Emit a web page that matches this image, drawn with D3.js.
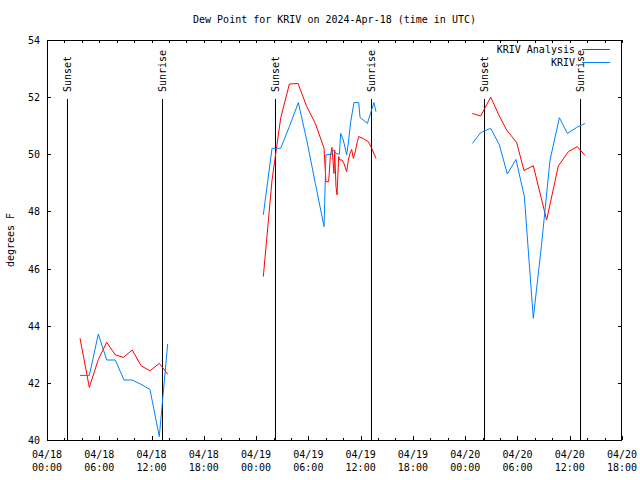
<!DOCTYPE html>
<html><head><meta charset="utf-8">
<script src="https://cdn.jsdelivr.net/npm/d3@7"></script>
<style>
body{margin:0;background:#fff;}
text{font-family:"DejaVu Sans Mono",monospace;font-size:10px;fill:#000;}
</style></head>
<body>
<svg id="c" width="640" height="480"></svg>
<script>
const title = "Dew Point for KRIV on 2024-Apr-18 (time in UTC)";
const yLabel = "degrees F";
const seriesNames = ["KRIV Analysis", "KRIV"];
const seriesColors = ["#ff0000", "#0080ff"];
const baseTime = Date.UTC(2024, 3, 18, 0, 0);
const yTicks = [40, 42, 44, 46, 48, 50, 52, 54];

// hours after 2024-04-18 00:00 UTC
const analysisTimes = [3.79,4.86,5.89,6.85,7.84,8.76,9.79,10.79,11.82,12.89,13.85,
  24.83,25.83,26.82,27.82,28.81,29.81,30.80,31.80,32.02,32.33,32.52,32.71,32.94,33.02,33.17,33.29,33.48,33.63,33.86,34.09,34.40,34.59,34.78,34.97,35.16,35.39,35.62,35.78,36.31,36.88,37.27,37.76,
  48.82,49.78,50.93,51.92,52.76,53.91,54.75,55.82,57.35,58.69,59.84,60.87,61.75];
const analysisValues = [43.56,41.84,42.82,43.42,42.98,42.89,43.15,42.6,42.42,42.68,42.3,
  45.72,49.1,51.26,52.46,52.48,51.67,51.08,50.21,49.04,49.04,49.92,50.24,49.33,50.15,48.87,48.58,49.92,49.80,49.80,49.68,49.39,49.80,50.03,50.17,49.86,50.09,50.44,50.62,50.55,50.44,50.21,49.86,
  51.43,51.34,52.0,51.34,50.85,50.41,49.43,49.60,47.7,49.59,50.09,50.27,49.96];

const krivTimes = [3.79,4.86,5.89,6.85,7.84,8.84,9.79,10.79,11.82,12.89,13.85,
  24.83,25.83,26.82,27.82,28.85,29.81,30.80,31.80,32.02,32.67,32.87,33.17,33.56,33.71,34.01,34.40,34.63,34.86,35.24,35.78,35.93,36.77,37.08,37.53,37.76,
  48.82,49.78,50.93,51.92,52.84,53.83,54.79,55.82,56.78,57.74,58.81,59.73,60.80,61.75];
const krivValues = [42.26,42.26,43.71,42.8,42.8,42.1,42.1,41.95,41.77,40.12,43.36,
  47.88,50.21,50.21,50.97,51.81,50.50,48.98,47.47,49.98,50.0,50.15,50.03,50.0,50.73,50.5,49.98,50.5,51.14,51.81,51.81,51.29,51.08,51.38,51.81,51.49,
  50.38,50.76,50.91,50.33,49.31,49.82,48.52,44.26,46.88,49.80,51.28,50.73,50.94,51.08];

const sunLabels = ["Sunset","Sunrise","Sunset","Sunrise","Sunset","Sunrise"];
const sunTimes = [2.26,13.24,26.21,37.19,50.2,61.22];

const toDate = h => new Date(baseTime + h * 3600000);

const L = 47, R = 622, T = 40, B = 440;
const x = d3.scaleUtc().domain([toDate(0), toDate(66)]).range([L, R]);
const y = d3.scaleLinear().domain([40, 54]).range([B, T]);

const svg = d3.select("#c");

// title
svg.append("text").attr("x", (L + R) / 2).attr("y", 23).attr("text-anchor", "middle").text(title);
// y label
svg.append("text").attr("transform", "translate(14,240) rotate(-90)").attr("text-anchor", "middle").text(yLabel);

const g = svg.append("g").attr("shape-rendering", "crispEdges");
const majorTicks = d3.range(0, 67, 6).map(toDate);
const minorTicks = d3.range(0, 67, 2).filter(h => h % 6 !== 0).map(toDate);

// bottom axis ticks
g.selectAll(".bmaj").data(majorTicks).join("line")
  .attr("x1", d => Math.round(x(d)) + 0.5).attr("x2", d => Math.round(x(d)) + 0.5)
  .attr("y1", B).attr("y2", B - 4).attr("stroke", "#000");
g.selectAll(".bmin").data(minorTicks).join("line")
  .attr("x1", d => Math.round(x(d)) + 0.5).attr("x2", d => Math.round(x(d)) + 0.5)
  .attr("y1", B).attr("y2", B - 2).attr("stroke", "#000");
// top axis ticks
g.selectAll(".tt").data(majorTicks.concat(minorTicks)).join("line")
  .attr("x1", d => Math.round(x(d)) + 0.5).attr("x2", d => Math.round(x(d)) + 0.5)
  .attr("y1", T).attr("y2", T + 3).attr("stroke", "#000");
// y ticks
g.selectAll(".yl").data(yTicks).join("line")
  .attr("x1", L).attr("x2", L + 4).attr("y1", d => Math.round(y(d)) + 0.5).attr("y2", d => Math.round(y(d)) + 0.5).attr("stroke", "#000");
g.selectAll(".yr").data(yTicks).join("line")
  .attr("x1", R - 4).attr("x2", R).attr("y1", d => Math.round(y(d)) + 0.5).attr("y2", d => Math.round(y(d)) + 0.5).attr("stroke", "#000");

// tick labels
const fmtD = d3.utcFormat("%m/%d"), fmtH = d3.utcFormat("%H:%M");
const xl = svg.selectAll(".xl").data(majorTicks).join("text")
  .attr("text-anchor", "middle");
xl.append("tspan").attr("x", d => x(d)).attr("y", 458).text(d => fmtD(d));
xl.append("tspan").attr("x", d => x(d)).attr("y", 471).text(d => fmtH(d));
svg.selectAll(".ylab").data(yTicks).join("text")
  .attr("x", 40).attr("y", d => y(d) + 4).attr("text-anchor", "end").text(d => d);

// sunrise/sunset
g.selectAll(".sun").data(sunTimes).join("line")
  .attr("x1", d => Math.round(x(toDate(d))) + 0.5).attr("x2", d => Math.round(x(toDate(d))) + 0.5)
  .attr("y1", 99).attr("y2", B).attr("stroke", "#000");
svg.selectAll(".sunl").data(sunTimes).join("text")
  .attr("transform", d => `translate(${x(toDate(d)) + 4},92) rotate(-90)`)
  .attr("text-anchor", "start").text((d, i) => sunLabels[i]);

// series
function segments(times, values) {
  const segs = []; let cur = [];
  times.forEach((t, i) => {
    if (cur.length && t - times[i - 1] > 3) { segs.push(cur); cur = []; }
    cur.push([toDate(t), values[i]]);
  });
  if (cur.length) segs.push(cur);
  return segs;
}
const line = d3.line().x(d => x(d[0])).y(d => y(d[1]));
[[analysisTimes, analysisValues], [krivTimes, krivValues]].forEach(([t, v], k) => {
  svg.append("g").selectAll("path").data(segments(t, v)).join("path")
    .attr("d", line).attr("fill", "none").attr("stroke", seriesColors[k]).attr("stroke-width", 1);
});

// frame
g.append("rect").attr("x", L + 0.5).attr("y", T + 0.5).attr("width", R - L - 1).attr("height", B - T).attr("fill", "none").attr("stroke", "#000");

// legend
seriesNames.forEach((n, i) => {
  const ly = 50 + i * 13;
  svg.append("text").attr("x", 575).attr("y", ly + 3).attr("text-anchor", "end").text(n);
  g.append("line").attr("x1", 582).attr("x2", 610).attr("y1", ly - 0.5).attr("y2", ly - 0.5).attr("stroke", seriesColors[i]);
});
</script>
</body></html>
